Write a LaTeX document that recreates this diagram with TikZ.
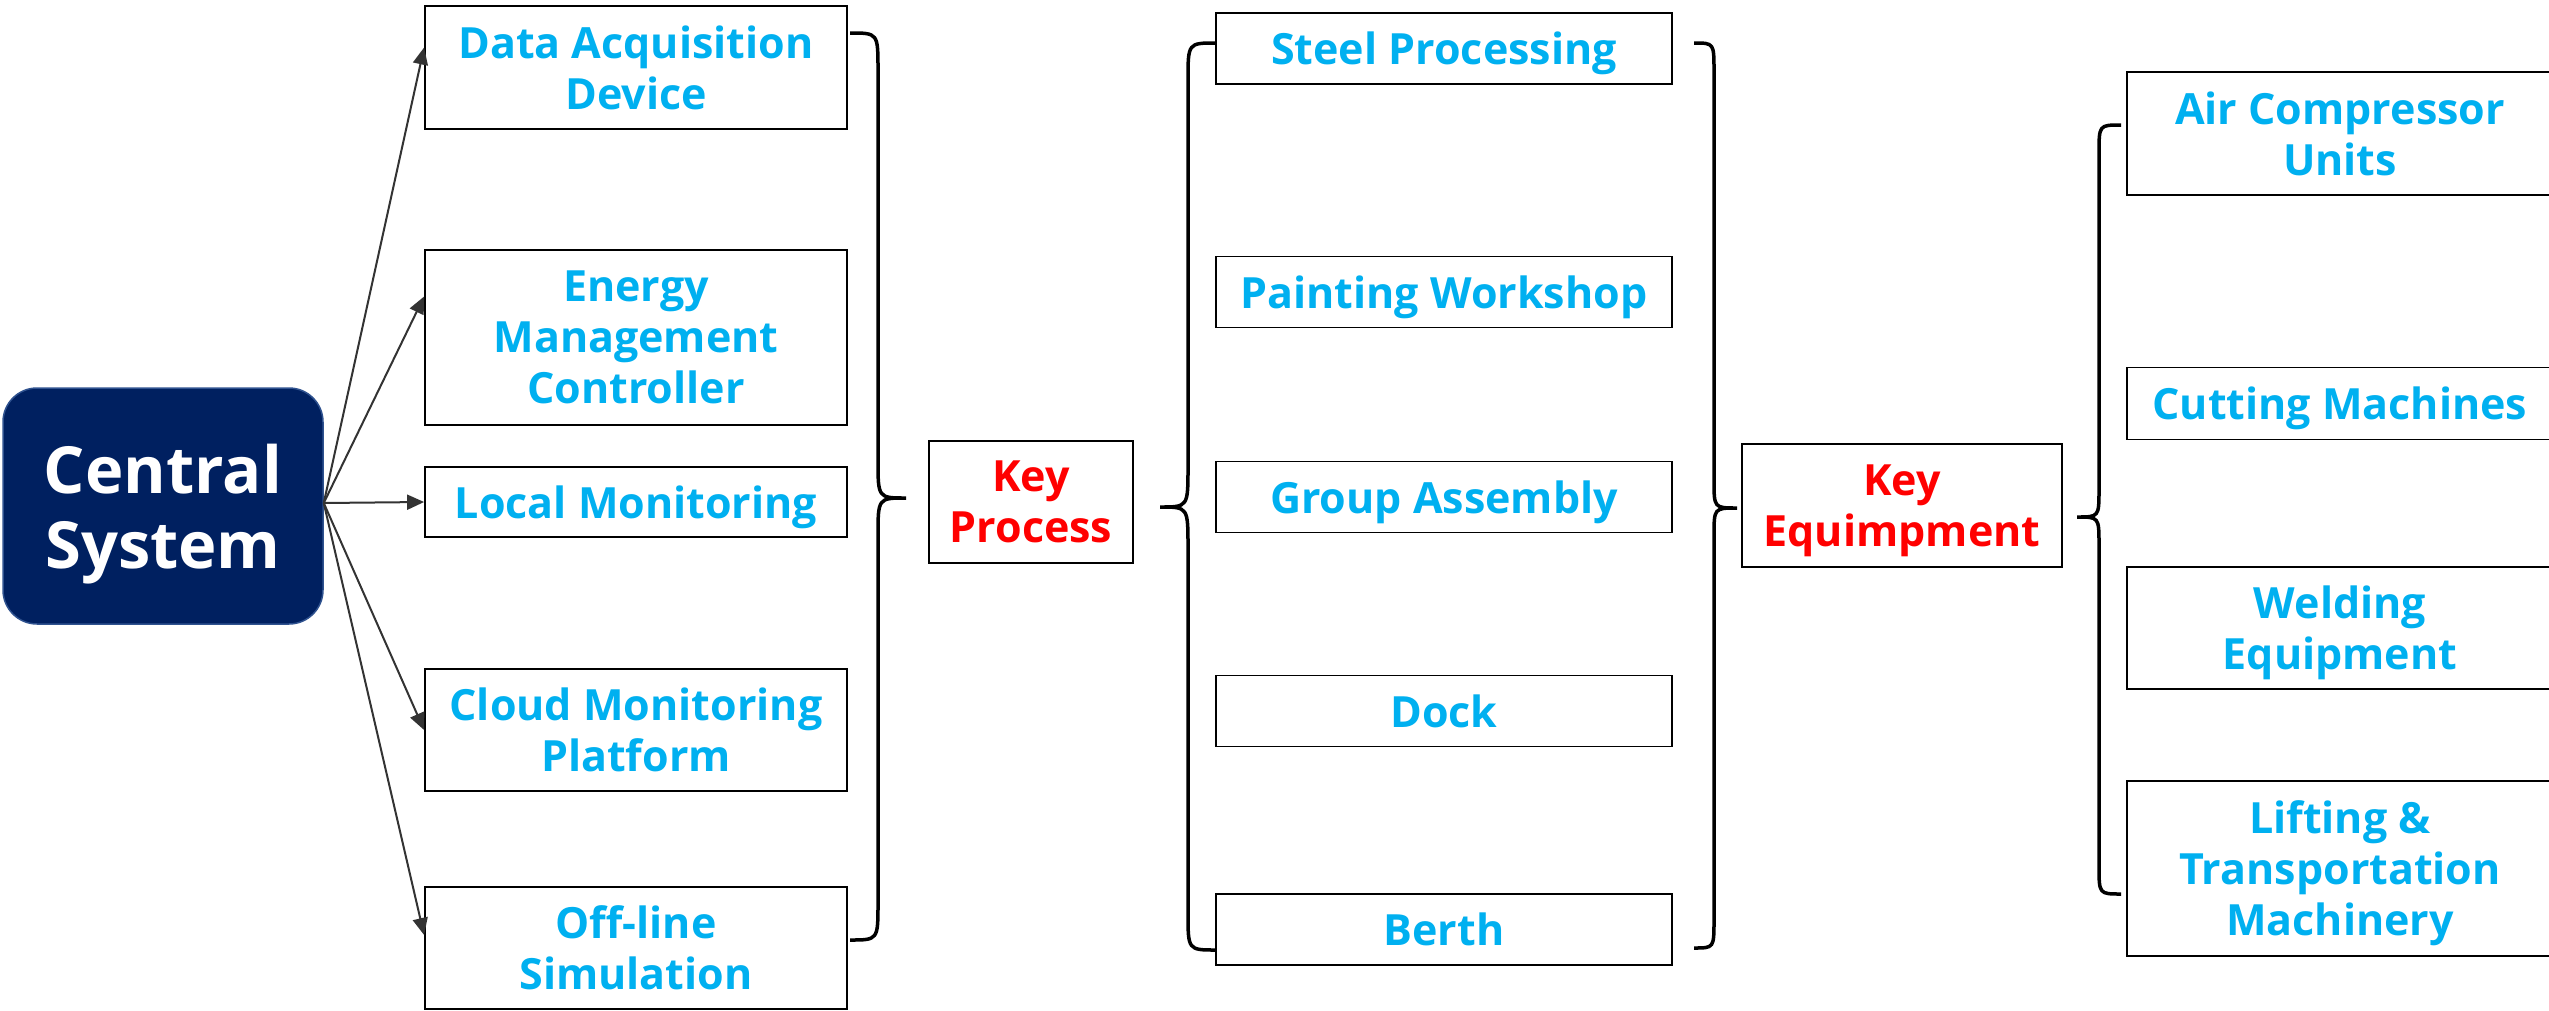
\documentclass[tikz,border=0pt]{standalone}
\usepackage{fontspec}
\setmainfont{Open Sans}
\usetikzlibrary{arrows.meta,calc}

\definecolor{itemblue}{HTML}{00B0F0}
\definecolor{keyred}{HTML}{FF0000}
\definecolor{navy}{HTML}{002060}
\definecolor{navyedge}{HTML}{2F528F}
\definecolor{arrowgray}{HTML}{333333}

% curly brace: ends x, spine x, tip x, top y, tip y, bottom y, end radius, tip radius
\newcommand\drawbrace[8]{%
  \draw[bracestyle] (#1,#4) .. controls (#2,#4) .. (#2,#4+#7) -- (#2,#5-#8)
    .. controls (#2,#5) .. (#3,#5) .. controls (#2,#5) .. (#2,#5+#8)
    -- (#2,#6-#7) .. controls (#2,#6) .. (#1,#6);}

\begin{document}
\begin{tikzpicture}[x=1pt,y=-1pt,
  itembox/.style={draw=black, line width=1.8pt, fill=white, inner sep=0pt,
    align=center, text=itemblue, text depth=0pt,
    font=\fontsize{43}{51}\selectfont\bfseries},
  keybox/.style={itembox, text=keyred},
  centralbox/.style={draw=navyedge, line width=1.5pt, fill=navy, rounded corners=34pt,
    inner sep=0pt, align=center, text=white, text depth=0pt,
    font=\fontsize{65}{75}\selectfont\bfseries},
  link/.style={draw=arrowgray, line width=2pt, -{Triangle[length=17pt,width=15pt]}},
  bracestyle/.style={draw=black, line width=3.5pt}]

\useasboundingbox (0,0) rectangle (2549,1010);

% central node
\node[centralbox, minimum width=320pt, minimum height=236pt] (cs) at (163,506) {Central\\System};

% first column
\node[itembox, minimum width=422pt, minimum height=123pt] (da) at (636,67.5) {Data Acquisition\\Device};
\node[itembox, minimum width=422pt, minimum height=175pt] (em) at (636,337.5) {Energy\\Management\\Controller};
\node[itembox, minimum width=422pt, minimum height=70pt]  (lm) at (636,502) {Local Monitoring};
\node[itembox, minimum width=422pt, minimum height=122pt] (cm) at (636,730) {Cloud Monitoring\\Platform};
\node[itembox, minimum width=422pt, minimum height=122pt] (ol) at (636,948) {Off-line\\Simulation};

% key process
\node[keybox, minimum width=204pt, minimum height=122pt] (kp) at (1031,502) {Key\\Process};

% second column
\node[itembox, minimum width=456pt, minimum height=71pt] (sp) at (1444,48.5) {Steel Processing};
\node[itembox, minimum width=456pt, minimum height=71pt] (pw) at (1444,292) {Painting Workshop};
\node[itembox, minimum width=456pt, minimum height=71pt] (ga) at (1444,497) {Group Assembly};
\node[itembox, minimum width=456pt, minimum height=71pt] (dk) at (1444,711) {Dock};
\node[itembox, minimum width=456pt, minimum height=71pt] (bt) at (1444,929.5) {Berth};

% key equipment
\node[keybox, minimum width=320pt, minimum height=123pt] (ke) at (1902,505.5) {Key\\Equimpment};

% third column
\node[itembox, minimum width=426pt, minimum height=123pt] (ac) at (2340,133.5) {Air Compressor\\Units};
\node[itembox, minimum width=426pt, minimum height=72pt]  (cu) at (2340,403.5) {Cutting Machines};
\node[itembox, minimum width=426pt, minimum height=122pt] (we) at (2340,628) {Welding\\Equipment};
\node[itembox, minimum width=426pt, minimum height=175pt] (lt) at (2340,868.5) {Lifting \&\\Transportation\\Machinery};

% arrows from the central system
\coordinate (src) at ([yshift=3pt]cs.east);
\draw[link] (src) -- ([yshift=20pt]da.west);
\draw[link] (src) -- ([yshift=41pt]em.west);
\draw[link] (src) -- (lm.west);
\draw[link] (src) -- (cm.west);
\draw[link] (src) -- ([yshift=13pt]ol.west);

% braces
\drawbrace{850}{878}{906}{33}{498}{940}{37}{38}
\drawbrace{1216}{1188}{1160}{43}{507}{950}{37}{40}
\drawbrace{1694}{1714}{1737}{43}{508}{948}{28}{28}
\drawbrace{2121}{2099}{2077}{125}{517}{894}{28}{28}

\end{tikzpicture}
\end{document}
